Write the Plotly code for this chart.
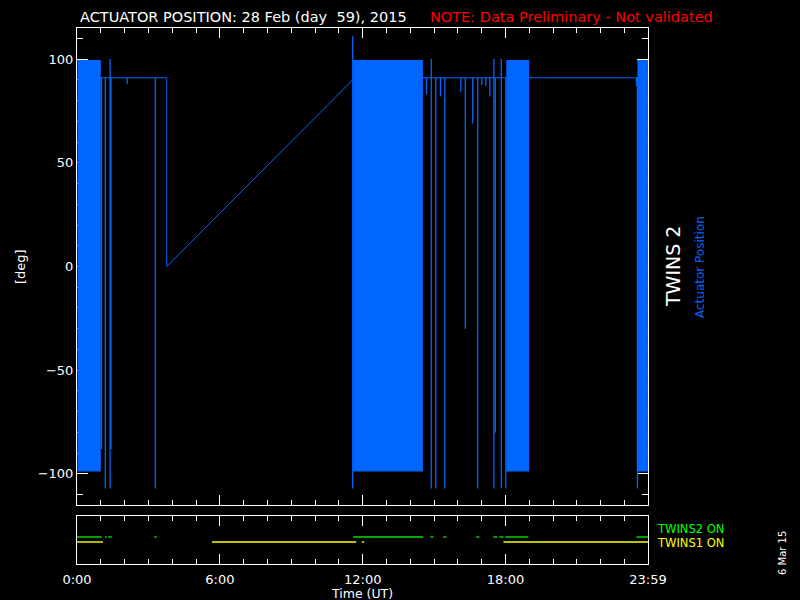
import plotly.graph_objects as go

BLUE = "#0066ff"
FONT = "DejaVu Sans"

# TWINS 2 actuator position, 28 Feb 2015 -- hours UT / degrees
# dense sweeping intervals (the actuator swings between the two limits)
block_start = [0.02, 11.60, 18.03, 23.54]
block_end = [1.00, 14.53, 18.99, 23.98]
block_low = [-98.8, -98.8, -98.8, -98.8]
block_high = [99.6, 99.6, 99.6, 99.6]

# parked position (gaps as None)
base_time = [1.00, 3.77, 3.77, 11.58, None, 14.53, 18.03, None, 18.99, 23.54]
base_deg = [91, 91, 0, 90, None, 91, 91, None, 91, 91]

# short excursions away from the parked position
spike_time = [1.03, 1.19, 1.39, 1.43, 2.11, 3.29, 11.58, 14.68, 14.88, 15.07,
              15.27, 15.45, 16.12, 16.31, 16.62, 16.83, 17.00, 17.17, 17.34,
              17.51, 17.57, 17.82, 18.01, 23.50, 23.54]
spike_low = [-88, -107, -107, -88, 88, -107, -107, 83, -107, -107,
             82, -107, 84, -30, 69, -107, 87.5, 87, 82,
             -107, -80, -107, -107, 87, -107]
spike_high = [91, 91, 100, 91, 91, 91, 111, 91, 100, 91,
              91, 91, 91, 91, 91, 91, 91, 91, 91,
              100, 91, 100, 91, 91, 91]

# instrument ON intervals
tw2_start = [0.0, 1.18, 1.31, 3.24, 11.60, 14.84, 15.38, 16.77, 17.49, 17.74, 17.99, 23.50]
tw2_end = [1.04, 1.25, 1.46, 3.35, 14.54, 14.96, 15.51, 16.90, 17.65, 17.91, 18.96, 23.98]
tw1_start = [0.0, 5.67, 11.97, 17.91]
tw1_end = [1.09, 11.73, 12.06, 23.98]
TW2_LEVEL = 1.0
TW1_LEVEL = 0.9

tick_hours = [0, 6, 12, 18, 23.983]
tick_text = ["0:00", "6:00", "12:00", "18:00", "23:59"]
minor_hours = list(range(1, 24))
deg_ticks = [-100, -50, 0, 50, 100]
deg_text = ["\u2212100", "\u221250", "0", "50", "100"]


def box_path(starts, ends, lows, highs):
    xs, ys = [], []
    for s, e, lo, hi in zip(starts, ends, lows, highs):
        xs += [s, e, e, s, s, None]
        ys += [lo, lo, hi, hi, lo, None]
    return xs, ys


def vsegments(times, lows, highs):
    xs, ys = [], []
    for t, lo, hi in zip(times, lows, highs):
        xs += [t, t, None]
        ys += [hi, lo, None]
    return xs, ys


def hsegments(starts, ends, level):
    xs, ys = [], []
    for s, e in zip(starts, ends):
        xs += [s, e, None]
        ys += [level, level, None]
    return xs, ys


fig = go.Figure()

bx, by = box_path(block_start, block_end, block_low, block_high)
fig.add_trace(go.Scatter(x=bx, y=by, mode="lines", fill="toself", fillcolor=BLUE,
                         line=dict(width=0, color=BLUE), showlegend=False))
fig.add_trace(go.Scatter(x=base_time, y=base_deg, mode="lines",
                         line=dict(width=1, color=BLUE), showlegend=False))
sx, sy = vsegments(spike_time, spike_low, spike_high)
fig.add_trace(go.Scatter(x=sx, y=sy, mode="lines",
                         line=dict(width=1.3, color=BLUE), showlegend=False))

gx, gy = hsegments(tw2_start, tw2_end, TW2_LEVEL)
fig.add_trace(go.Scatter(x=gx, y=gy, mode="lines", xaxis="x2", yaxis="y2",
                         line=dict(width=1.4, color="#00e000"), showlegend=False))
yx, yy = hsegments(tw1_start, tw1_end, TW1_LEVEL)
fig.add_trace(go.Scatter(x=yx, y=yy, mode="lines", xaxis="x2", yaxis="y2",
                         line=dict(width=1.4, color="#ffff00"), showlegend=False))

x_dom = [77 / 800, 648 / 800]
axis_common = dict(showline=True, linecolor="white", linewidth=1, mirror="ticks",
                   ticks="inside", tickcolor="white", showgrid=False, zeroline=False,
                   layer="below traces", automargin=False)
minor_x = dict(tickvals=minor_hours, ticks="inside", ticklen=5, tickcolor="white")

fig.update_layout(
    width=800, height=600,
    paper_bgcolor="black", plot_bgcolor="black",
    margin=dict(l=0, r=0, t=0, b=0),
    font=dict(family=FONT, color="white", size=13),
    xaxis=dict(domain=x_dom, range=[0, 23.983], tickvals=tick_hours,
               showticklabels=False, ticklen=10, minor=minor_x, anchor="y",
               **axis_common),
    yaxis=dict(domain=[1 - 505 / 600, 1 - 28 / 600], range=[-115, 115],
               tickvals=deg_ticks, ticktext=deg_text, ticklen=11,
               tickfont=dict(size=13, color="white"),
               minor=dict(dtick=10, ticks="inside", ticklen=6, tickcolor="white"),
               anchor="x", **axis_common),
    xaxis2=dict(domain=x_dom, range=[0, 23.983], matches="x", anchor="y2",
                tickvals=tick_hours, ticktext=tick_text, ticklen=10,
                tickfont=dict(size=13, color="white"), ticklabelstandoff=3,
                minor=minor_x, **axis_common),
    yaxis2=dict(domain=[1 - 564 / 600, 1 - 516 / 600], range=[0.46, 1.42],
                showticklabels=False, showline=True, linecolor="white", mirror=True,
                ticks="", showgrid=False, zeroline=False, anchor="x2",
                automargin=False),
)

ann = [
    dict(text="ACTUATOR POSITION: 28 Feb (day \u00a059), 2015", x=78 / 800, y=1 - 17 / 600,
         xanchor="left", font=dict(size=14.5, color="white")),
    dict(text="NOTE: Data Preliminary - Not validated", x=428 / 800, y=1 - 17 / 600,
         xanchor="left", font=dict(size=14.5, color="#ff0000")),
    dict(text="[deg]", x=20 / 800, y=1 - 267 / 600, textangle=-90,
         font=dict(size=13, color="white")),
    dict(text="TWINS 2", x=673 / 800, y=1 - 267 / 600, textangle=-90,
         font=dict(size=19, color="white")),
    dict(text="Actuator Position", x=700 / 800, y=1 - 267 / 600, textangle=-90,
         font=dict(size=12, color=BLUE)),
    dict(text="TWINS2 ON", x=655 / 800, y=1 - 529 / 600, xanchor="left",
         font=dict(size=11.5, color="#00ff00")),
    dict(text="TWINS1 ON", x=655 / 800, y=1 - 543 / 600, xanchor="left",
         font=dict(size=11.5, color="#ffff00")),
    dict(text="6 Mar 15", x=782 / 800, y=1 - 553 / 600, textangle=-90,
         font=dict(size=10, color="white")),
    dict(text="Time (UT)", x=362 / 800, y=1 - 593 / 600,
         font=dict(size=12.5, color="white")),
]
for a in ann:
    a.update(xref="paper", yref="paper", showarrow=False, yanchor=a.get("yanchor", "middle"))
    a.setdefault("xanchor", "center")
    fig.add_annotation(**a)

# drop the default 8px page margin so the 800x600 figure fills the window
fig.write_html("out.html", config={"displayModeBar": False},
               post_script="document.body.style.margin='0';document.body.style.background='black';")
